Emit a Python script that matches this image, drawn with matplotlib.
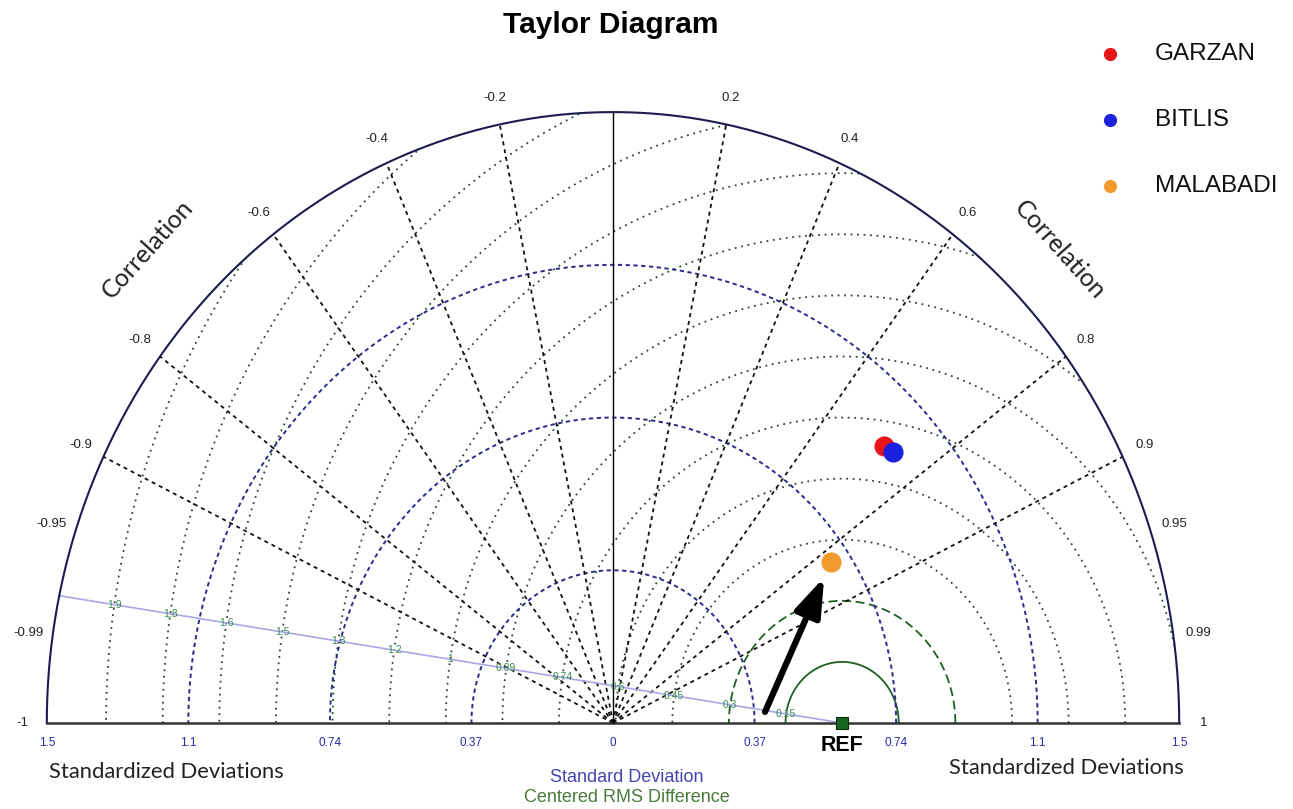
import numpy as np
import matplotlib.pyplot as plt
from matplotlib.patches import Wedge

# station statistics (normalised standard deviation, correlation)
stations = ["GARZAN", "BITLIS", "MALABADI"]
colors = ["#e8141c", "#1a22e0", "#f29a2e"]
std_dev = [0.982, 0.990, 0.695]
corr = [0.726, 0.744, 0.825]
ref_std = 0.603

std_max = 1.49
std_ticks = [0.3725, 0.745, 1.1175, 1.49]
std_labels = ["0.37", "0.74", "1.1", "1.5"]
corr_ticks = [-1, -0.99, -0.95, -0.9, -0.8, -0.6, -0.4, -0.2,
              0.2, 0.4, 0.6, 0.8, 0.9, 0.95, 0.99, 1]
corr_lines = [-0.9, -0.8, -0.6, -0.4, -0.2, 0.2, 0.4, 0.6, 0.8, 0.9]
rms_levels = [0.149, 0.298, 0.447, 0.596, 0.745, 0.894, 1.043,
              1.192, 1.341, 1.49, 1.639, 1.788, 1.937]
rms_labels = ["0.15", "0.3", "0.45", "0.6", "0.74", "0.89", "1",
              "1.2", "1.3", "1.5", "1.6", "1.8", "1.9"]

W, H = 1293, 809
# pixel scale of the (slightly stretched) diagram
SX, SY = 380.0, 410.0
X0, Y0 = 613, 723
ARIAL = ["Liberation Sans", "DejaVu Sans"]
CALIBRI = ["Lato", "DejaVu Sans"]

fig = plt.figure(figsize=(W / 100, H / 100), dpi=100)
ax = fig.add_axes([0, 0, 1, 1])
ax.set_xlim(-X0 / SX, (W - X0) / SX)
ax.set_ylim(-(H - Y0) / SY, Y0 / SY)
ax.axis("off")

def fx(px):
    return px / W

def fy(py):
    return 1 - py / H

theta = np.linspace(0, np.pi, 721)
clip = Wedge((0, 0), std_max, 0, 180, transform=ax.transData)

# centred RMS circles around the reference point
rms_axis = np.deg2rad(8.57)
for i, r in enumerate(rms_levels):
    t = np.linspace(0, np.pi, 1441)
    if i == 0:
        kw = dict(color="#1f5f24", lw=1.3, ls="-")
    elif i == 1:
        kw = dict(color="#1f5f24", lw=1.3, ls=(0, (5, 2.5)))
    else:
        kw = dict(color="#2c4630", lw=1.3, ls=(0, (1, 2.6)))
    ln, = ax.plot(ref_std + r * np.cos(t), r * np.sin(t), zorder=2, **kw)
    ln.set_clip_path(clip)
    lx = ref_std - r * np.cos(rms_axis)
    ly = r * np.sin(rms_axis)
    ax.text(lx, ly, rms_labels[i], fontsize=7.5, color="#3a8a4e",
            ha="center", va="center", zorder=4, family=ARIAL)

# line carrying the RMS labels
rr = np.linspace(0, 2.1, 50)
ln, = ax.plot(ref_std - rr * np.cos(rms_axis), rr * np.sin(rms_axis),
              color="#a8a8e6", lw=1.2, zorder=3)
ln.set_clip_path(clip)

# standard deviation arcs
for s in std_ticks[:-1]:
    ax.plot(s * np.cos(theta), s * np.sin(theta), color="#2b2b8c",
            lw=1.4, ls=(0, (2.2, 1.8)), zorder=2)
ax.plot(std_max * np.cos(theta), std_max * np.sin(theta),
        color="#1c1c50", lw=1.5, zorder=3)
ax.plot([-std_max, std_max], [0, 0], color="#333333", lw=1.8, zorder=3)

# correlation rays
for c in corr_lines:
    a = np.arccos(c)
    ax.plot([0, std_max * np.cos(a)], [0, std_max * np.sin(a)],
            color="#111111", lw=1.3, ls=(0, (2.2, 2.2)), zorder=2)
ax.plot([0, 0], [0, std_max], color="black", lw=1.0, zorder=3)

for c in corr_ticks:
    a = np.arccos(c)
    ax.text(1.555 * np.cos(a), 1.555 * np.sin(a), f"{c:g}",
            fontsize=9.5, color="#222222", ha="center", va="center",
            family=ARIAL)

# standard deviation tick labels on both sides
ax.text(0, -0.05, "0", fontsize=8.5, color="#2a2aa8", ha="center",
        va="center", family=ARIAL)
for s, lab in zip(std_ticks, std_labels):
    for sign in (-1, 1):
        ax.text(sign * s, -0.05, lab, fontsize=8.5, color="#2a2aa8",
                ha="center", va="center", family=ARIAL)

# reference point
ax.plot(ref_std, 0, marker="s", ms=9, color="#17661f", mec="#0a300a",
        mew=0.8, zorder=6, clip_on=False)
ax.text(ref_std, -0.055, "REF", fontsize=15.5, fontweight="bold",
        ha="center", va="center", family=ARIAL)

# stations
xs, ys = [], []
for name, col, s, c in zip(stations, colors, std_dev, corr):
    a = np.arccos(c)
    x, y = s * np.cos(a), s * np.sin(a)
    xs.append(x)
    ys.append(y)
    ax.plot(x, y, "o", ms=13.5, color=col, mec=col, zorder=7)

# arrow pointing at MALABADI
ax.annotate("", xy=(xs[2], ys[2]), xytext=(0.40, 0.027),
            arrowprops=dict(arrowstyle="-|>,head_length=1.3,head_width=0.45",
                            mutation_scale=18, color="black", lw=4.5,
                            shrinkA=0, shrinkB=12),
            zorder=8)

# legend
for i, (name, col) in enumerate(zip(stations, colors)):
    py = 54 + i * 66
    ax.plot((1110 - X0) / SX, (Y0 - py) / SY, "o", ms=8.5, color=col,
            clip_on=False)
    fig.text(fx(1155), fy(py), name, fontsize=17.5, color="#111111",
             ha="left", va="center", family=ARIAL)

# titles
fig.text(fx(611), fy(25), "Taylor Diagram", fontsize=21.5, fontweight="bold",
         ha="center", va="center", family=ARIAL)
fig.text(fx(148), fy(249), "Correlation", fontsize=18, rotation=48,
         ha="center", va="center", color="#222222", family=CALIBRI)
fig.text(fx(1060), fy(250), "Correlation", fontsize=18, rotation=-48,
         ha="center", va="center", color="#222222", family=CALIBRI)
fig.text(fx(166), fy(772), "Standardized Deviations", fontsize=15.8,
         ha="center", va="center", color="#222222", family=CALIBRI)
fig.text(fx(1066), fy(768), "Standardized Deviations", fontsize=15.8,
         ha="center", va="center", color="#222222", family=CALIBRI)
fig.text(fx(627), fy(778), "Standard Deviation", fontsize=13, color="#4444b0",
         ha="center", va="center", family=ARIAL)
fig.text(fx(627), fy(797), "Centered RMS Difference", fontsize=13,
         color="#4a7a3c", ha="center", va="center", family=ARIAL)

fig.savefig("out.png", dpi=100, facecolor="white")
